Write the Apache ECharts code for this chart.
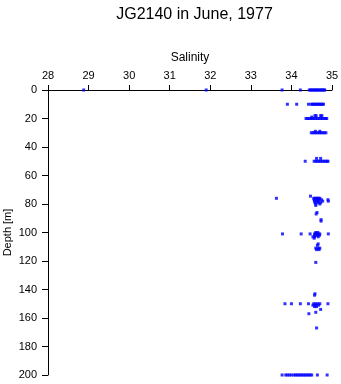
<!DOCTYPE html>
<html><head><meta charset="utf-8">
<script src="https://cdn.jsdelivr.net/npm/echarts@6/dist/echarts.min.js"></script>
<style>html,body{margin:0;padding:0;background:#fff}#c{width:341px;height:384px}</style>
</head><body><div id="c"></div>
<script>
const titleText = "JG2140 in June, 1977";
const xName = "Salinity";
const yName = "Depth [m]";
const xTicks = [28, 29, 30, 31, 32, 33, 34, 35];
const yTicks = [0, 20, 40, 60, 80, 100, 120, 140, 160, 180, 200];

const depthM = [
  0,0,0,0,0,0,0,0,0,0,0,0,0,0,0,0,0,0,
  10,10,10,10,10,10,10,10,10,10,10,10,10,10,
  20,20,20,20,20,20,20,20,20,20,20,20,20,20,
  18,18,18,18,19,
  30,30,30,30,30,30,30,30,30,30,
  29,29,
  50,50,50,50,50,50,50,50,50,50,50,
  48,48,
  74.5,
  76,76,76,76,76,76,76,
  77,77,77,77,77,
  78,78,78,78,78,
  79,79,79,
  80,80,
  81,
  86,87,91,92,
  100,100,
  101,101,101,101,101,101,101,101,101,
  102,102,102,
  103,103,103,
  104,108,109,
  111,111,111,
  112,112,
  121,143,144,
  150,150,150,150,150,150,150,150,150,
  151,151,151,
  152,152,
  154,156,157,167,
  200,200,200,200,200,200,200,200,200,200,200,200,200,200,200,200,200,200,200
];
const salinityPSU = [
  28.88,31.9,33.77,34.22,34.44,34.47,34.5,34.53,34.56,34.59,34.62,34.65,34.68,34.71,34.74,34.77,34.8,34.82,
  33.9,34.13,34.42,34.49,34.52,34.55,34.58,34.61,34.64,34.67,34.7,34.73,34.76,34.79,
  34.36,34.4,34.44,34.48,34.52,34.56,34.6,34.64,34.68,34.72,34.76,34.8,34.84,34.87,
  34.58,34.61,34.72,34.75,34.5,
  34.49,34.53,34.57,34.61,34.65,34.69,34.73,34.77,34.81,34.85,
  34.59,34.7,
  34.34,34.56,34.6,34.64,34.68,34.72,34.76,34.8,34.84,34.88,34.9,
  34.62,34.72,
  34.47,
  33.63,34.55,34.58,34.61,34.64,34.67,34.7,
  34.56,34.62,34.68,34.74,34.9,
  34.57,34.63,34.66,34.77,34.91,
  34.58,34.66,34.72,
  34.6,34.7,
  34.6,
  34.63,34.61,34.73,34.73,
  34.6,34.65,
  33.78,34.24,34.46,34.57,34.6,34.63,34.66,34.7,34.91,
  34.58,34.64,34.69,
  34.53,34.57,34.66,
  34.56,34.66,34.64,
  34.6,34.66,34.7,
  34.62,34.68,
  34.6,34.58,34.57,
  33.84,34.0,34.22,34.42,34.55,34.6,34.65,34.7,34.9,
  34.53,34.59,34.67,
  34.57,34.62,
  34.72,34.6,34.43,34.62,
  33.77,33.86,33.9,33.95,34.0,34.06,34.1,34.14,34.18,34.22,34.26,34.3,34.34,34.38,34.42,34.46,34.5,34.64,34.88
];

const points = salinityPSU.map((s, i) => [s, depthM[i]]);
const font = "Liberation Sans, Arial, sans-serif";
const chart = echarts.init(document.getElementById('c'), null, {renderer: 'canvas'});
chart.setOption({
  animation: false,
  backgroundColor: '#fff',
  title: {
    text: titleText, left: 189.5, textAlign: 'center', top: 2,
    textStyle: {fontFamily: font, fontSize: 16, fontWeight: 'normal', color: '#000'}
  },
  graphic: [{
    type: 'text', x: 8, y: 232.5, rotation: Math.PI / 2,
    style: {
      text: yName, fill: '#000', font: '11px ' + font,
      align: 'center', verticalAlign: 'middle',
      textAlign: 'center', textVerticalAlign: 'middle'
    }
  }],
  grid: {left: 48, right: 9, top: 90, bottom: 9, containLabel: false, outerBoundsMode: 'none'},
  xAxis: {
    type: 'value', position: 'top', min: xTicks[0], max: xTicks[xTicks.length-1], interval: 1,
    name: xName, nameLocation: 'middle', nameGap: 26,
    nameTextStyle: {fontFamily: font, fontSize: 12, color: '#000'},
    axisLine: {show: true, onZero: false, lineStyle: {color: '#000', width: 1}},
    axisTick: {show: true, length: 5, lineStyle: {color: '#000'}},
    axisLabel: {fontFamily: font, fontSize: 11, color: '#000', margin: 9},
    splitLine: {show: false}
  },
  yAxis: {
    type: 'value', inverse: true, min: yTicks[0], max: yTicks[yTicks.length-1], interval: 20,
    axisLine: {show: true, onZero: false, lineStyle: {color: '#000', width: 1}},
    axisTick: {show: true, length: 6, lineStyle: {color: '#000'}},
    axisLabel: {fontFamily: font, fontSize: 11, color: '#000', margin: 11},
    splitLine: {show: false}
  },
  series: [{
    type: 'scatter', data: points, symbol: 'rect', symbolSize: 3,
    itemStyle: {color: '#0000ff'}
  }]
});
</script></body></html>
